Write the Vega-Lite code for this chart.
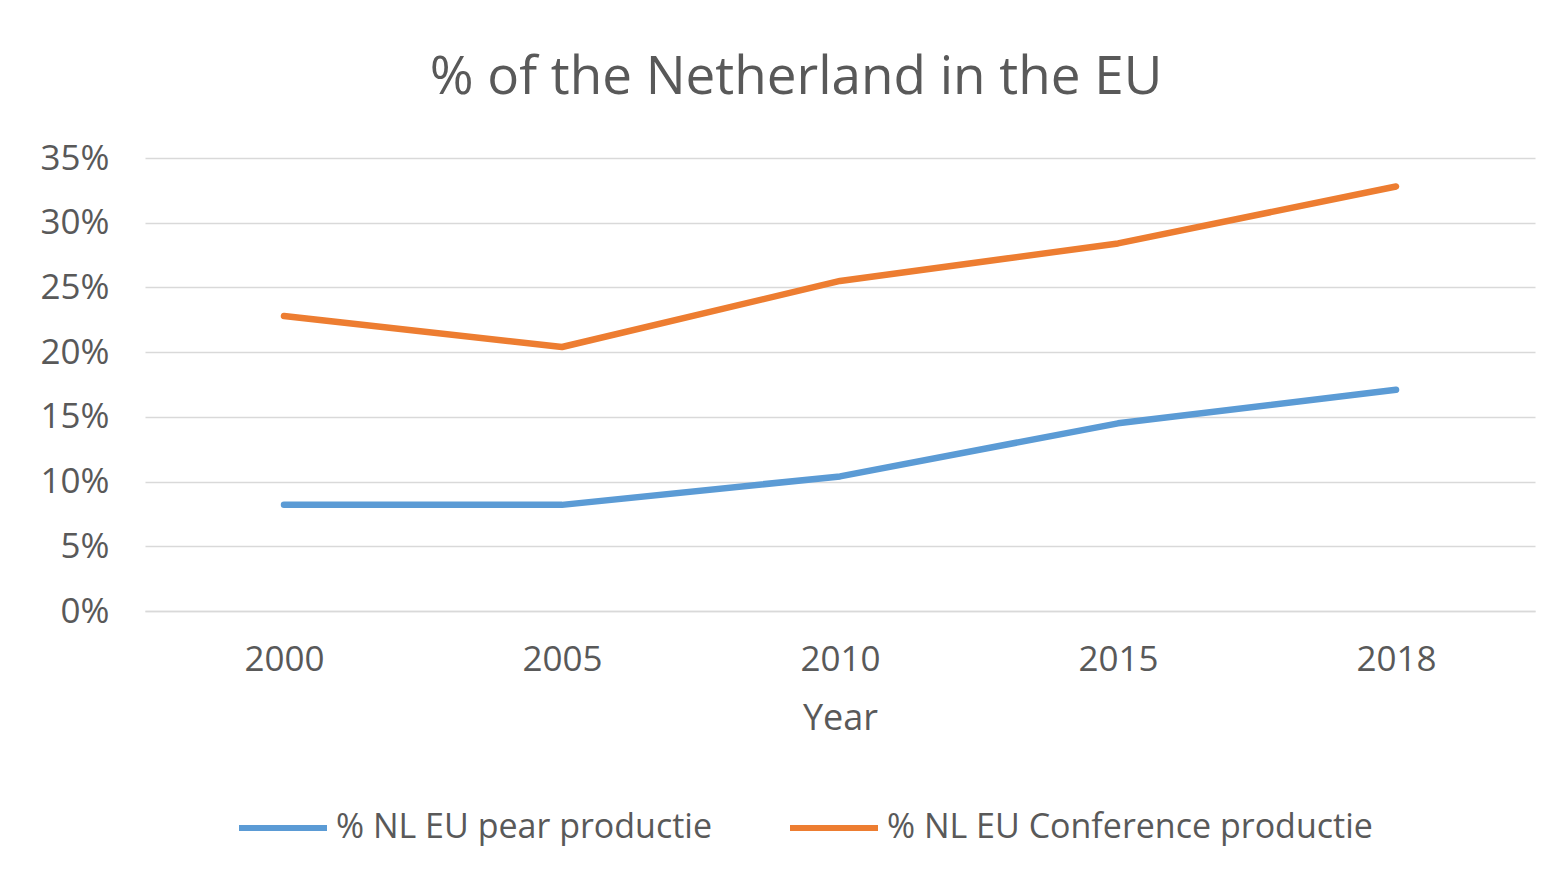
{
  "$schema": "https://vega.github.io/schema/vega-lite/v6.json",
  "autosize": {"type": "none"},
  "width": 1390,
  "height": 453,
  "padding": {"left": 145, "top": 158, "right": 22, "bottom": 269},
  "background": "white",
  "config": {
    "font": "Open Sans",
    "view": {"stroke": null}
  },
  "title": {
    "text": "% of the Netherland in the EU",
    "fontSize": 53,
    "fontWeight": "normal",
    "color": "#595959",
    "font": "Open Sans",
    "anchor": "middle",
    "dx": -44,
    "baseline": "alphabetic",
    "offset": -6
  },
  "data": {
    "values": [
      {"year": "2000", "series": "% NL EU pear productie", "value": 0.082},
      {"year": "2005", "series": "% NL EU pear productie", "value": 0.082},
      {"year": "2010", "series": "% NL EU pear productie", "value": 0.104},
      {"year": "2015", "series": "% NL EU pear productie", "value": 0.145},
      {"year": "2018", "series": "% NL EU pear productie", "value": 0.171},
      {"year": "2000", "series": "% NL EU Conference productie", "value": 0.228},
      {"year": "2005", "series": "% NL EU Conference productie", "value": 0.204},
      {"year": "2010", "series": "% NL EU Conference productie", "value": 0.255},
      {"year": "2015", "series": "% NL EU Conference productie", "value": 0.284},
      {"year": "2018", "series": "% NL EU Conference productie", "value": 0.328}
    ]
  },
  "mark": {"type": "line", "strokeWidth": 6.5, "strokeCap": "round", "strokeJoin": "round"},
  "encoding": {
    "x": {
      "field": "year",
      "type": "ordinal",
      "scale": {"type": "point", "padding": 0.5},
      "axis": {
        "title": "Year",
        "titleFontSize": 36,
        "titleFontWeight": "normal",
        "titleColor": "#595959",
        "titlePadding": 24,
        "labelFontSize": 35,
        "labelColor": "#595959",
        "labelAngle": 0,
        "labelPadding": 31,
        "ticks": false,
        "domain": true,
        "domainColor": "#d9d9d9",
        "domainWidth": 1.5,
        "grid": false
      }
    },
    "y": {
      "field": "value",
      "type": "quantitative",
      "scale": {"domain": [0, 0.35], "nice": false},
      "axis": {
        "title": null,
        "values": [0, 0.05, 0.1, 0.15, 0.2, 0.25, 0.3, 0.35],
        "format": ".0%",
        "labelFontSize": 35,
        "labelColor": "#595959",
        "labelPadding": 36,
        "ticks": false,
        "domain": false,
        "grid": true,
        "gridColor": "#d9d9d9",
        "gridWidth": 1.5
      }
    },
    "color": {
      "field": "series",
      "type": "nominal",
      "sort": ["% NL EU pear productie", "% NL EU Conference productie"],
      "scale": {
        "domain": ["% NL EU pear productie", "% NL EU Conference productie"],
        "range": ["#5B9BD5", "#ED7D31"]
      },
      "legend": {
        "title": null,
        "orient": "none",
        "direction": "horizontal",
        "legendX": 91,
        "legendY": 623,
        "symbolType": "stroke",
        "symbolSize": 7744,
        "symbolStrokeWidth": 6,
        "labelFontSize": 34,
        "labelColor": "#595959",
        "labelOffset": 6,
        "columnPadding": 65,
        "labelLimit": 700
      }
    }
  }
}
